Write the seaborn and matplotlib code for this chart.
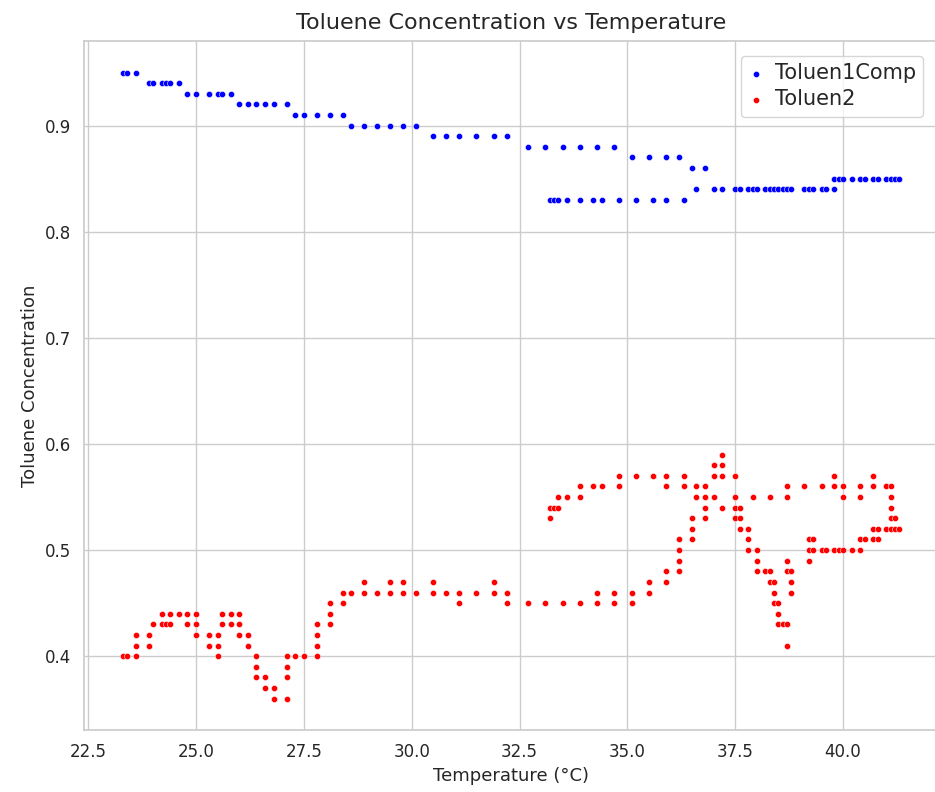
import numpy as np
import pandas as pd
import matplotlib
matplotlib.use("Agg")
import matplotlib.pyplot as plt
import seaborn as sns

# Toluen1Comp: one concentration level -> temperatures recorded at that level
blue_levels = [0.95, 0.94, 0.93, 0.92, 0.91, 0.90, 0.89, 0.88, 0.87, 0.86, 0.83, 0.84, 0.85]
blue_temps = [
    [23.3, 23.4, 23.6],
    [23.9, 24.0, 24.2, 24.3, 24.4, 24.6],
    [24.8, 25.0, 25.3, 25.5, 25.6, 25.8],
    [26.0, 26.2, 26.4, 26.6, 26.8, 27.1],
    [27.3, 27.5, 27.8, 28.1, 28.4],
    [28.6, 28.9, 29.2, 29.5, 29.8, 30.1],
    [30.5, 30.8, 31.1, 31.5, 31.9, 32.2],
    [32.7, 33.1, 33.5, 33.9, 34.3, 34.7],
    [35.1, 35.5, 35.9, 36.2],
    [36.5, 36.8],
    [33.2, 33.3, 33.4, 33.6, 33.9, 34.2, 34.4, 34.8, 35.2, 35.6, 35.9, 36.3],
    [36.6, 37.0, 37.2, 37.5, 37.6, 37.8, 37.9, 38.0, 38.2, 38.3, 38.4, 38.5,
     38.6, 38.7, 38.8, 39.1, 39.2, 39.3, 39.5, 39.6, 39.8],
    [39.8, 39.9, 40.0, 40.2, 40.4, 40.5, 40.7, 40.8, 41.0, 41.1, 41.2, 41.3],
]

# Toluen2: temperature -> concentrations recorded at that temperature
red_temps = [
    23.3, 23.4, 23.6, 23.9, 24.0, 24.2, 24.3, 24.4, 24.6, 24.8,
    25.0, 25.3, 25.5, 25.6, 25.8, 26.0, 26.2, 26.4, 26.6, 26.8,
    27.1, 27.3, 27.5, 27.8, 28.1, 28.4, 28.6, 28.9, 29.2, 29.5,
    29.8, 30.1, 30.5, 30.8, 31.1, 31.5, 31.9, 32.2, 32.7, 33.1,
    33.2, 33.3, 33.4, 33.5, 33.6, 33.9, 34.2, 34.3, 34.4, 34.7,
    34.8, 35.1, 35.2, 35.5, 35.6, 35.9, 36.2, 36.3, 36.5, 36.6,
    36.8, 37.0, 37.2, 37.5, 37.6, 37.8, 37.9, 38.0, 38.2, 38.3,
    38.4, 38.5, 38.6, 38.7, 38.8, 39.1, 39.2, 39.3, 39.5, 39.6,
    39.8, 39.9, 40.0, 40.2, 40.4, 40.5, 40.7, 40.8, 41.0, 41.1,
    41.2, 41.3,
]
red_values = [
    [0.40], [0.40], [0.42, 0.41, 0.40], [0.42, 0.41], [0.43],
    [0.44, 0.43], [0.43], [0.44, 0.43], [0.44], [0.44, 0.43],
    [0.44, 0.43, 0.42], [0.42, 0.41], [0.42, 0.41, 0.40], [0.44, 0.43], [0.44, 0.43],
    [0.44, 0.43, 0.42], [0.42, 0.41], [0.40, 0.39, 0.38], [0.38, 0.37], [0.37, 0.36],
    [0.40, 0.39, 0.38, 0.36], [0.40], [0.40], [0.43, 0.42, 0.41, 0.40], [0.45, 0.44, 0.43],
    [0.46, 0.45], [0.46], [0.47, 0.46], [0.46], [0.47, 0.46],
    [0.47, 0.46], [0.46], [0.47, 0.46], [0.46], [0.46, 0.45],
    [0.46], [0.47, 0.46], [0.46, 0.45], [0.45], [0.45],
    [0.54, 0.53], [0.54], [0.55, 0.54], [0.45], [0.55],
    [0.56, 0.55, 0.45], [0.56], [0.46, 0.45], [0.56], [0.46, 0.45],
    [0.57, 0.56], [0.46, 0.45], [0.57], [0.47, 0.46], [0.57],
    [0.57, 0.56, 0.48, 0.47], [0.51, 0.50, 0.49, 0.48], [0.57, 0.56], [0.53, 0.52, 0.51], [0.56, 0.55],
    [0.56, 0.55, 0.54, 0.53], [0.58, 0.57, 0.55], [0.59, 0.58, 0.57, 0.54], [0.57, 0.55, 0.54, 0.53], [0.54, 0.53, 0.52],
    [0.52, 0.51, 0.50], [0.55], [0.50, 0.49, 0.48], [0.48], [0.55, 0.48, 0.47],
    [0.47, 0.46, 0.45], [0.45, 0.44, 0.43], [0.43], [0.56, 0.55, 0.49, 0.48, 0.43, 0.41], [0.48, 0.47, 0.46],
    [0.56], [0.51, 0.50, 0.49], [0.51, 0.50], [0.56, 0.50], [0.50],
    [0.57, 0.56, 0.50], [0.50], [0.56, 0.55, 0.50], [0.50], [0.56, 0.55, 0.51, 0.50],
    [0.51], [0.57, 0.56, 0.52, 0.51], [0.52, 0.51], [0.56, 0.52], [0.56, 0.55, 0.54, 0.53, 0.52],
    [0.53, 0.52], [0.52],
]

blue_df = pd.DataFrame(
    [(t, lvl) for lvl, temps in zip(blue_levels, blue_temps) for t in temps],
    columns=["Temperature", "Toluen1Comp"],
)
red_df = pd.DataFrame(
    [(t, v) for t, vals in zip(red_temps, red_values) for v in vals],
    columns=["Temperature", "Toluen2"],
)

sns.set_theme(style="whitegrid")

fig = plt.figure(figsize=(9.35, 7.92), dpi=100)
ax = fig.add_axes([0.0898, 0.0783, 0.9134, 0.8696])

sns.scatterplot(data=blue_df, x="Temperature", y="Toluen1Comp", color="blue",
                s=20, label="Toluen1Comp", ax=ax)
sns.scatterplot(data=red_df, x="Temperature", y="Toluen2", color="red",
                s=20, label="Toluen2", ax=ax)

ax.set_title("Toluene Concentration vs Temperature", fontsize=16, pad=9)
ax.set_xlabel("Temperature (°C)", fontsize=13)
ax.set_ylabel("Toluene Concentration", fontsize=13)
ax.tick_params(labelsize=12)
ax.legend(loc="upper right", fontsize=15, handlelength=0.8, handletextpad=0.5,
          labelspacing=0.3, borderpad=0.35, borderaxespad=0.7)

plt.savefig("out.png", dpi=100)
